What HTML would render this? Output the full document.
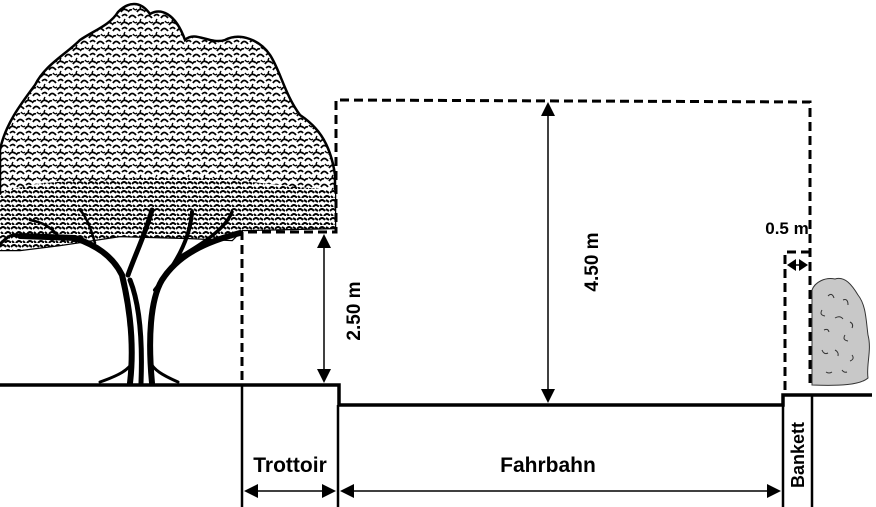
<!DOCTYPE html>
<html><head><meta charset="utf-8"><style>
html,body{margin:0;padding:0;background:#fff;}
svg{display:block;}
text{font-family:"Liberation Sans",Arial,sans-serif;font-weight:bold;fill:#000;}
</style></head><body>
<svg width="876" height="507" viewBox="0 0 876 507" xmlns="http://www.w3.org/2000/svg">
<defs>
<pattern id="leaf" width="16" height="13" patternUnits="userSpaceOnUse">
<rect width="16" height="13" fill="#fff"/>
<path d="M1,5 q3,-5 7,0 M9,12 q3,-5 7,-1 M0,12 q2,-3 4,-2 M10,3 q3,-3 5,0" stroke="#000" stroke-width="1.8" fill="none"/>
<path d="M5,8 q2,3 4,1 M13,6 q-2,3 1,4" stroke="#000" stroke-width="1.4" fill="none"/>
</pattern>
<pattern id="leaf2" width="11" height="9" patternUnits="userSpaceOnUse">
<rect width="11" height="9" fill="#fff"/>
<path d="M0,4 q3,-4 6,0 M5,9 q3,-4 6,0 M7,2 l3,2 M1,7 l2,2" stroke="#000" stroke-width="2" fill="none"/>
</pattern>
</defs>

<!-- tree canopy -->
<path d="M0,250 L0,150 C5,125 20,105 35,85 C45,65 65,55 80,40 C95,30 110,25 118,12 C128,2 140,0 150,14 C160,8 175,12 185,40 C195,30 210,45 225,40 C240,32 260,40 270,55 C280,70 285,95 300,115 C315,125 330,140 335,175 L335,228 L242,230 L232,240 L190,238 L120,236 L60,245 L20,250 Z" fill="url(#leaf)" stroke="#000" stroke-width="2.5"/>
<path d="M0,250 L0,195 C40,175 90,185 140,178 C200,172 260,185 335,190 L335,228 L242,230 L232,240 L190,238 L120,236 L60,245 L20,250 Z" fill="url(#leaf2)" stroke="none"/>
<!-- trunk / branches -->
<g stroke="#000" fill="none" stroke-linecap="round">
<path d="M130,383 C135,340 128,300 122,275 C112,255 95,245 75,238 L20,236" stroke-width="6"/>
<path d="M152,383 C148,340 150,300 162,280 C178,255 205,242 240,233" stroke-width="6"/>
<path d="M141,383 C143,330 138,300 130,280" stroke-width="5"/>
<path d="M128,275 C135,255 145,235 152,210" stroke-width="5"/>
<path d="M155,290 C175,265 190,240 192,212" stroke-width="4"/>
<path d="M178,258 C200,245 225,230 232,212" stroke-width="3.5"/>
<path d="M100,382 C120,375 128,370 133,362 M178,382 C162,375 154,370 150,362" stroke-width="3"/>
<path d="M20,236 C10,232 5,240 0,244" stroke-width="3"/>
<path d="M60,238 C50,225 40,222 30,220 M95,243 C90,225 85,215 80,210" stroke-width="2.5"/>
</g>

<!-- ground lines -->
<g stroke="#000" stroke-width="3.5" fill="none">
<path d="M0,385 L339,385 L339,405 L783,405 L783,395 L872,395"/>
<line x1="242" y1="385" x2="242" y2="507" stroke-width="2.5"/>
<line x1="338" y1="405" x2="338" y2="507" stroke-width="2.5"/>
<line x1="783" y1="395" x2="783" y2="507" stroke-width="2.5"/>
<line x1="812" y1="395" x2="812" y2="507" stroke-width="2.5"/>
</g>

<!-- dashed clearance -->
<g stroke="#000" stroke-width="3" fill="none" stroke-dasharray="9,5">
<path d="M242,380 L242,232 L336,232 L336,100 L810,102 L810,385"/>
<path d="M785,390 L785,252 L810,252"/>
</g>

<!-- dimension arrows -->
<g stroke="#000" stroke-width="1.5">
<line x1="324" y1="245" x2="324" y2="372"/>
<line x1="548" y1="112" x2="548" y2="393"/>
<line x1="256" y1="491" x2="324" y2="491"/>
<line x1="352" y1="491" x2="769" y2="491"/>
<line x1="795" y1="265" x2="800" y2="265"/>
</g>
<g fill="#000">
<polygon points="324,234 317,248 331,248"/>
<polygon points="324,383 317,369 331,369"/>
<polygon points="548,102 541,116 555,116"/>
<polygon points="548,403 541,389 555,389"/>
<polygon points="244,491 258,484 258,498"/>
<polygon points="336,491 322,484 322,498"/>
<polygon points="340,491 354,484 354,498"/>
<polygon points="781,491 767,484 767,498"/>
<polygon points="787,265 796,259 796,271"/>
<polygon points="808,265 799,259 799,271"/>
</g>

<!-- bush -->
<path d="M812,290 C815,282 825,277 835,279 C845,276 852,285 858,295 C866,305 866,320 868,335 C872,350 866,365 868,378 C860,385 840,386 812,385 Z" fill="#c8c8c8" stroke="#333" stroke-width="1"/>
<g stroke="#333" stroke-width="1" fill="none">
<path d="M828,296 q4,-4 6,2 M843,300 q5,-2 5,5 M822,310 q-3,5 3,6 M835,318 q5,-3 8,1 M850,322 q4,2 2,6 M824,330 q4,-2 5,2 M845,335 q-3,5 3,6 M822,350 q2,5 6,3 M835,350 q4,2 3,6 M852,355 q3,4 -2,6 M826,372 q3,2 6,0 M842,370 q2,3 5,2"/>
</g>

<!-- labels -->
<text x="290" y="472" font-size="21" text-anchor="middle">Trottoir</text>
<text x="548" y="472" font-size="21" text-anchor="middle">Fahrbahn</text>
<text x="787" y="234" font-size="17" text-anchor="middle">0.5 m</text>
<text transform="translate(360,311) rotate(-90)" font-size="19" text-anchor="middle">2.50 m</text>
<text transform="translate(598,262) rotate(-90)" font-size="19" text-anchor="middle">4.50 m</text>
<text transform="translate(804,455) rotate(-90)" font-size="18" text-anchor="middle">Bankett</text>
</svg>
</body></html>
